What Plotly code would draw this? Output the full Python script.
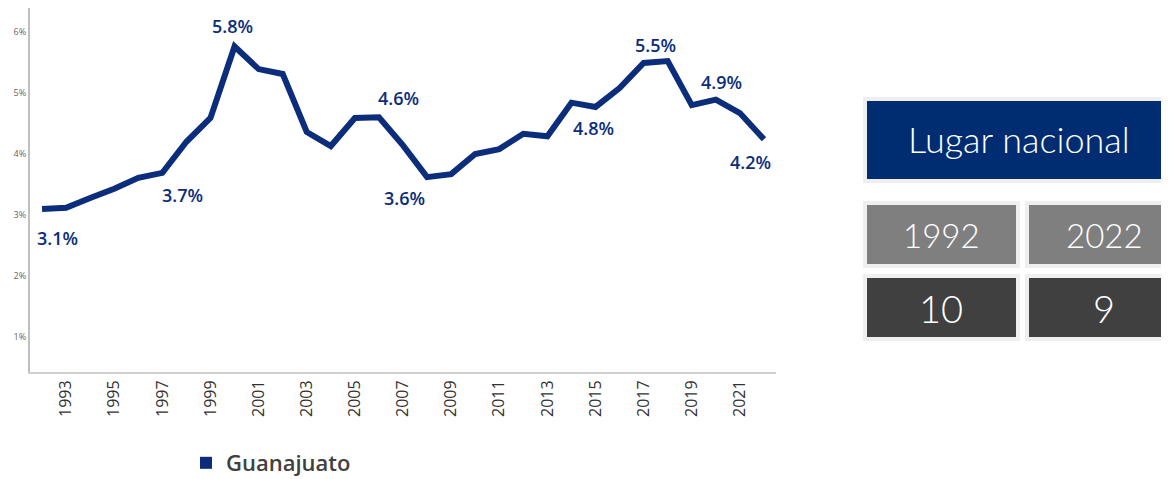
import plotly.graph_objects as go

years = list(range(1992, 2023))
values = [3.10, 3.12, 3.28, 3.43, 3.61, 3.69, 4.20, 4.59, 5.76, 5.39,
          5.31, 4.36, 4.13, 4.59, 4.60, 4.14, 3.62, 3.67, 4.00, 4.08,
          4.33, 4.29, 4.84, 4.77, 5.08, 5.49, 5.52, 4.80, 4.89, 4.67, 4.24]
label_years = [1992, 1997, 2000, 2006, 2008, 2015, 2017, 2020, 2022]
label_shifts = [(15, -29), (20, -22), (-2, 20), (20, 19), (-23, -21),
                (-2, -21), (12, 18), (6, 18), (-13, -23)]
tick_years = list(range(1993, 2022, 2))
y_ticks = [1, 2, 3, 4, 5, 6]
series_name = "Guanajuato"
panel_title = "Lugar nacional"
rank_years = ["1992", "2022"]
rank_values = ["10", "9"]

NAVY = "#0b2d7c"
WIN_W, WIN_H = 1169, 479
OFF = 8  # default page body margin
W, H = WIN_W - OFF, WIN_H - OFF
L, R, T, B = 30, 776, 8, 372  # plot area in window pixels

def px(x):
    return (x - L) / (R - L)

def py(y):
    return (B - y) / (B - T)

fig = go.Figure()
fig.add_trace(go.Scatter(x=years, y=values, mode="lines",
                         line=dict(color=NAVY, width=6),
                         showlegend=False, hoverinfo="x+y"))
fig.add_trace(go.Scatter(x=[None], y=[None], mode="markers", name=series_name,
                         marker=dict(symbol="square", size=9, color=NAVY),
                         showlegend=True))

for yr, (dx, dy) in zip(label_years, label_shifts):
    v = values[years.index(yr)]
    fig.add_annotation(x=yr, y=v, text=f"{v:.1f}%", showarrow=False,
                       xshift=dx, yshift=dy,
                       font=dict(family="Open Sans", size=18, color=NAVY, weight=600))

shapes = []
def box(x0, y0, x1, y1, fill):
    shapes.append(dict(type="rect", xref="paper", yref="paper",
                       x0=px(x0 - 4), x1=px(x1 + 4), y0=py(y1 + 4), y1=py(y0 - 4),
                       fillcolor="#efefef", line=dict(width=0), layer="above"))
    shapes.append(dict(type="rect", xref="paper", yref="paper",
                       x0=px(x0), x1=px(x1), y0=py(y1), y1=py(y0),
                       fillcolor=fill, line=dict(width=0), layer="above"))

def box_text(cx, cy, text, size):
    fig.add_annotation(xref="paper", yref="paper", x=px(cx), y=py(cy),
                       text=text, showarrow=False, xanchor="center", yanchor="middle",
                       font=dict(family="Lato", size=size, color="white", weight=300))

box(867, 101, 1175, 179, "#002d72")
box_text(1019, 139, panel_title, 36)
box(867, 205, 1016, 264, "#7f7f7f")
box(1029, 205, 1175, 264, "#7f7f7f")
box(867, 278, 1016, 337, "#404040")
box(1029, 278, 1175, 337, "#404040")
box_text(941, 235, rank_years[0], 33)
box_text(1104, 235, rank_years[1], 33)
box_text(941, 308, rank_values[0], 38)
box_text(1104, 308, rank_values[1], 38)

fig.update_layout(
    width=W, height=H,
    margin=dict(l=L - OFF, r=WIN_W - R, t=T - OFF, b=WIN_H - B, pad=0, autoexpand=False),
    paper_bgcolor="white", plot_bgcolor="white",
    shapes=shapes,
    showlegend=True,
    legend=dict(orientation="h", x=px(186), y=py(463), xanchor="left", yanchor="middle",
                font=dict(family="Open Sans", size=22, color="#404040", weight=600),
                itemsizing="constant", itemwidth=30, bgcolor="rgba(0,0,0,0)"),
    xaxis=dict(range=[1991.5, 2022.5], tickmode="array", tickvals=tick_years,
               ticktext=[str(y) for y in tick_years], tickangle=-90,
               tickfont=dict(family="Open Sans", size=16, color="#333333"),
               showgrid=False, zeroline=False, showline=True, automargin=False,
               linecolor="#d0d0d0", linewidth=2, ticks=""),
    yaxis=dict(range=[0.43, 6.39], tickmode="array", tickvals=y_ticks,
               ticktext=[f"{t}%" for t in y_ticks],
               tickfont=dict(family="Open Sans", size=9, color="#666666"),
               showgrid=False, zeroline=False, showline=True, automargin=False,
               linecolor="#bfbfbf", linewidth=2, ticks=""),
)

fig.write_html("out.html")
